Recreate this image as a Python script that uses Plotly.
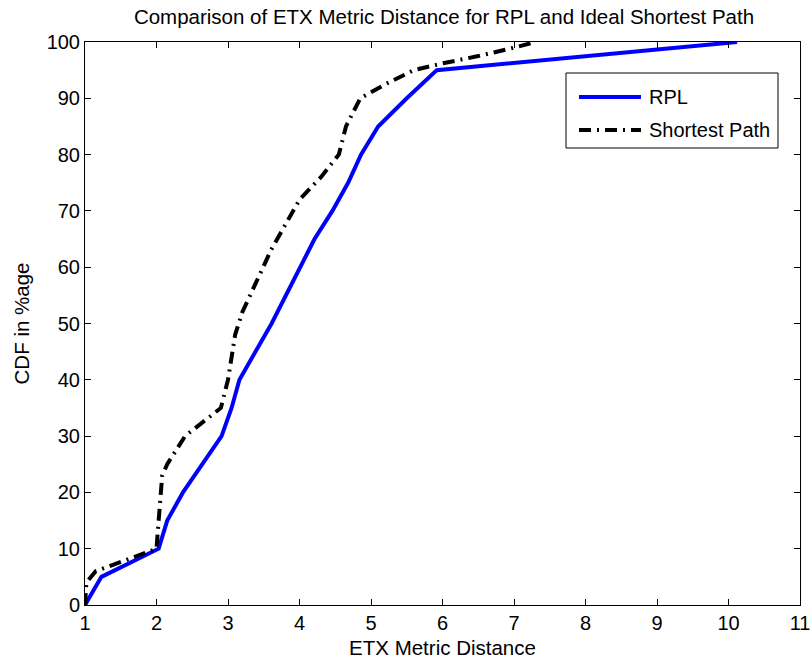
import plotly.graph_objects as go

# ETX metric distance CDF for RPL routes
rpl_x = [1.0, 1.23, 2.03, 2.15, 2.37, 2.91, 3.05, 3.16, 3.61, 4.02, 4.21, 4.46, 4.68, 4.86, 5.1, 5.5, 5.92, 10.12]
rpl_y = [0, 5, 10, 15, 20, 30, 35, 40, 50, 60, 65, 70, 75, 80, 85, 90, 95, 100]

# ETX metric distance CDF for ideal shortest paths
sp_x = [1.0, 1.02, 1.15, 2.0, 2.03, 2.08, 2.15, 2.4, 2.9, 3.0, 3.1, 3.2, 3.6, 4.0, 4.3, 4.55, 4.65, 4.85, 5.2, 5.6, 6.0, 6.5, 7.0, 7.3]
sp_y = [0, 4, 6, 10, 15, 23, 25, 30, 35, 40, 48, 52, 63, 72, 76, 80, 85, 90, 92.5, 95, 96.2, 97.5, 99, 100]

series_names = ["RPL", "Shortest Path"]
series_colors = ["#0000ff", "black"]
series_dash = ["solid", "12px,6px,2px,6px"]

x_ticks = list(range(1, 12))
y_ticks = list(range(0, 101, 10))

font_family = "Liberation Sans, Arial, Helvetica, sans-serif"

W, H = 810, 663
ML, MR, MT, MB = 85, 10, 42, 58
PW, PH = W - ML - MR, H - MT - MB


def px_x(p):
    return (p - ML) / PW


def px_y(p):
    return (H - MB - p) / PH


fig = go.Figure()
for xs, ys, name, color, dash in zip([rpl_x, sp_x], [rpl_y, sp_y], series_names, series_colors, series_dash):
    fig.add_trace(go.Scatter(
        x=xs, y=ys, mode="lines", name=name, showlegend=False,
        line=dict(color=color, width=4, dash=dash),
    ))

# boxed legend in the upper right of the axes
fig.add_shape(
    type="rect", xref="paper", yref="paper",
    x0=px_x(566), x1=px_x(778), y0=px_y(148), y1=px_y(73),
    line=dict(color="black", width=1), fillcolor="white", layer="above",
)
for row_y, name, color, dash in zip([97, 130], series_names, series_colors, series_dash):
    fig.add_shape(
        type="line", xref="paper", yref="paper",
        x0=px_x(579), x1=px_x(641), y0=px_y(row_y), y1=px_y(row_y),
        line=dict(color=color, width=4, dash=dash), layer="above",
    )
    fig.add_annotation(
        xref="paper", yref="paper", x=px_x(647), y=px_y(row_y),
        xanchor="left", yanchor="middle", showarrow=False,
        text=name, font=dict(size=20, color="black", family=font_family),
    )

axis_common = dict(
    showgrid=False, zeroline=False,
    showline=True, linecolor="black", linewidth=1, mirror="ticks",
    ticks="inside", ticklen=6, tickcolor="black",
    tickfont=dict(size=20, color="black", family=font_family),
    automargin=False, ticklabeloverflow="allow",
)

fig.update_layout(
    width=W, height=H,
    margin=dict(l=ML, r=MR, t=MT, b=MB),
    paper_bgcolor="white", plot_bgcolor="white",
    font=dict(family=font_family, color="black"),
    title=dict(
        text="Comparison of ETX Metric Distance for RPL and Ideal Shortest Path",
        x=px_x(444), xanchor="center", xref="paper",
        y=1 - 17 / H, yanchor="middle",
        font=dict(size=20.5, color="black", family=font_family),
    ),
    xaxis=dict(
        range=[1, 11], tickvals=x_ticks,
        title=dict(text="ETX Metric Distance", font=dict(size=20.5), standoff=7),
        **axis_common,
    ),
    yaxis=dict(
        range=[0, 100], tickvals=y_ticks,
        title=dict(text="CDF in %age", font=dict(size=20.5), standoff=11),
        **axis_common,
    ),
    showlegend=False,
)

fig.write_html("out.html")
